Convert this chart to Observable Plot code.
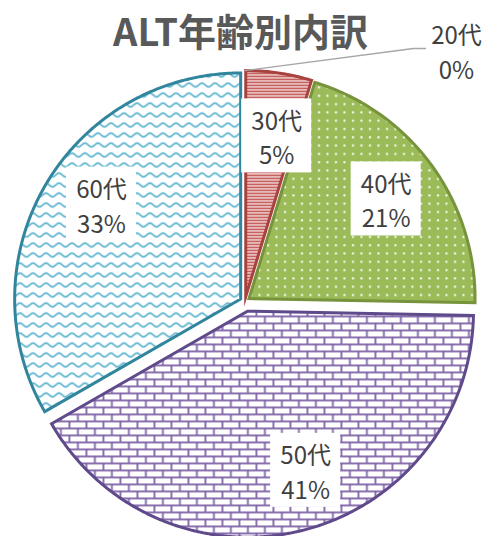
<!DOCTYPE html>
<html><head><meta charset="utf-8">
<script src="https://cdn.jsdelivr.net/npm/d3@7"></script>
<script src="https://cdn.jsdelivr.net/npm/@observablehq/plot@0.6"></script>
<style>
html,body{margin:0;padding:0;background:#fff;}
#wrap{position:relative;width:492px;height:536px;overflow:hidden;}
#title{position:absolute;left:0;top:11px;width:481px;text-align:center;font-family:"Noto Sans CJK JP",sans-serif;font-weight:700;font-size:38px;line-height:38px;color:#595959;white-space:nowrap;}
</style></head><body>
<div id="wrap"><div id="chart"></div><div id="title">ALT年齢別内訳</div></div>
<script>
// ---- data ----
const ages = ["20代", "30代", "40代", "50代", "60代"];
const shares = [0, 4.7, 20.6, 41.4, 33.3];
const pctLabels = ["0%", "5%", "21%", "41%", "33%"];

// ---- layout / style ----
const W = 492, H = 536, cx = 244.5, cy = 301, R = 226;
const u = px => px / R;
const styles = {
  "20代": {fill: "none", stroke: "none", explode: 5},
  "30代": {fill: "url(#pRed)", stroke: "#A8423F", explode: 5},
  "40代": {fill: "url(#pGreen)", stroke: "#77933C", explode: 5},
  "50代": {fill: "url(#pPurple)", stroke: "#5F4A8B", explode: 10},
  "60代": {fill: "url(#pTeal)", stroke: "#31859C", explode: 5}
};
const nudge = {"30代": [6, 7], "50代": [16, -5], "60代": [7.5, -10]};
const outside = {label: [456, 50], elbow: [413, 48], end: [425, 48]};

const rows = ages.map((a, i) => ({age: a, share: shares[i], pct: pctLabels[i]}));
const arcs = d3.pie().sort(null).value(d => d.share)(rows);

const slices = [];
const labels = [];
const leaders = [];
arcs.forEach(a => {
  const st = styles[a.data.age];
  const mid = (a.startAngle + a.endAngle) / 2;
  const e = u(st.explode);
  const vx = e * Math.sin(mid), vy = e * Math.cos(mid);
  const text = a.data.age + "\n" + a.data.pct;
  if (a.endAngle - a.startAngle > 1e-6) {
    const pts = [{x: vx, y: vy}];
    const n = Math.max(2, Math.ceil((a.endAngle - a.startAngle) / 0.008));
    for (let k = 0; k <= n; k++) {
      const t = a.startAngle + (a.endAngle - a.startAngle) * k / n;
      pts.push({x: vx + Math.sin(t), y: vy + Math.cos(t)});
    }
    slices.push({age: a.data.age, pts, st});
    const nd = nudge[a.data.age] || [0, 0];
    labels.push({x: vx + 0.75 * Math.sin(mid) + u(nd[0]), y: vy + 0.75 * Math.cos(mid) - u(nd[1]), text, box: true});
  } else {
    const p0 = {x: vx + Math.sin(mid), y: vy + Math.cos(mid)};
    leaders.push([p0,
      {x: u(outside.elbow[0] - cx), y: u(cy - outside.elbow[1])},
      {x: u(outside.end[0] - cx), y: u(cy - outside.end[1])}]);
    labels.push({x: u(outside.label[0] - cx), y: u(cy - outside.label[1]), text, box: false});
  }
});

const font = "'Noto Sans CJK JP', 'Noto Sans', sans-serif";
const svg = Plot.plot({
  width: W, height: H, margin: 0,
  x: {domain: [u(0 - cx), u(W - cx)], axis: null},
  y: {domain: [u(cy - H), u(cy)], axis: null},
  marks: [
    ...slices.map(s => Plot.line(s.pts, {x: "x", y: "y", curve: "linear-closed",
      fill: s.st.fill, stroke: s.st.stroke, strokeWidth: 3, strokeLinejoin: "miter", strokeMiterlimit: 10})),
    ...leaders.map(l => Plot.line(l, {x: "x", y: "y", stroke: "#A6A6A6", strokeWidth: 1.3})),
    Plot.rect(labels.filter(d => d.box), {x1: d => d.x - u(35), x2: d => d.x + u(35),
      y1: d => d.y - u(37), y2: d => d.y + u(37), fill: "white"}),
    Plot.text(labels, {x: "x", y: "y", text: "text", fontSize: 24, lineHeight: 1.45,
      fill: "#404040", fontFamily: font})
  ]
});

// patterns
const defs = d3.select(svg).insert("defs", ":first-child");
function pat(id, w, h) {
  return defs.append("pattern").attr("id", id).attr("patternUnits", "userSpaceOnUse")
    .attr("width", w).attr("height", h);
}
let p = pat("pRed", 4, 3);
p.append("rect").attr("width", 4).attr("height", 3).attr("fill", "#fff");
p.append("rect").attr("width", 4).attr("height", 1.8).attr("fill", "#C0504D");

p = pat("pGreen", 8.5, 8.3);
p.append("rect").attr("width", 8.5).attr("height", 8.3).attr("fill", "#9BBB59");
p.append("rect").attr("x", 3).attr("y", 3).attr("width", 2).attr("height", 2).attr("fill", "#fff");

p = pat("pPurple", 17, 14);
p.append("rect").attr("width", 17).attr("height", 14).attr("fill", "#fff");
[[0, 0, 17, 1.8], [0, 7, 17, 1.8], [0, 0, 1.8, 7], [8.5, 7, 1.8, 7]].forEach(r =>
  p.append("rect").attr("x", r[0]).attr("y", r[1]).attr("width", r[2]).attr("height", r[3]).attr("fill", "#7E62A6"));

p = pat("pTeal", 13, 10);
p.append("rect").attr("width", 13).attr("height", 10).attr("fill", "#fff");
p.append("path").attr("d", "M0,6.5 C2.2,6.5 4.3,2.5 6.5,2.5 C8.7,2.5 10.8,6.5 13,6.5")
  .attr("fill", "none").attr("stroke", "#45A9C9").attr("stroke-width", 1.6);

document.getElementById("chart").appendChild(svg);
</script>
</body></html>
